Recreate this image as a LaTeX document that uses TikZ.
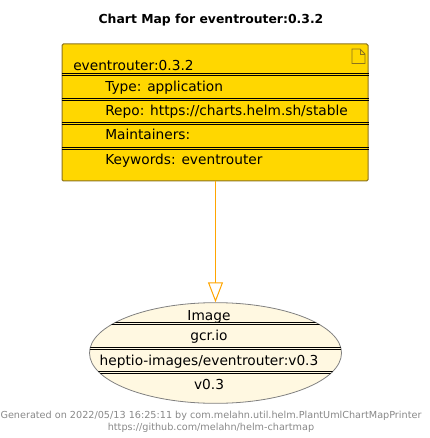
\documentclass[tikz,border=0pt]{standalone}
\usepackage{fontspec}
\setmainfont{DejaVu Sans}
\usetikzlibrary{arrows.meta,shapes.geometric}
\definecolor{chartfill}{RGB}{255,215,0}
\definecolor{chartedge}{RGB}{140,115,30}
\definecolor{imagefill}{RGB}{255,248,225}
\definecolor{linkcolor}{RGB}{255,165,0}
\definecolor{footgray}{RGB}{136,136,136}
\tikzset{
    rowtext/.style={anchor=base west,inner sep=0pt,font=\fontsize{10.3}{12}\selectfont},
    imgtext/.style={anchor=base,inner sep=0pt,font=\fontsize{10.3}{12}\selectfont},
    foottext/.style={anchor=base,inner sep=0pt,text=footgray,font=\fontsize{7.25}{9}\selectfont},
    rowline/.style={draw=black,line width=0.6pt}
}
\begin{document}
\begin{tikzpicture}[x=0.75pt,y=-0.75pt]
    \useasboundingbox (0,0) rectangle (429,438);
    \node (title) at (211,24) [anchor=base,inner sep=0pt,font=\bfseries\fontsize{9.3}{11}\selectfont] {Chart Map for eventrouter:0.3.2};

    \node (chart) at (215,112.5) [rectangle,draw=chartedge,fill=chartfill,line width=0.75pt,rounded corners=1pt,minimum width=229.5pt,minimum height=102.75pt,inner sep=0pt] {};
    \node (image) at (215.5,353) [ellipse,draw=gray,fill=imagefill,line width=0.6pt,minimum width=189pt,minimum height=75.5pt,inner sep=0pt] {};

    \draw[linkcolor,line width=0.75pt,-{Triangle[open,fill=white,length=15pt,width=11.25pt,line width=0.75pt]}] (image |- chart.south) -- (image.north);

    % rows of the chart box
    \foreach \y in {73.5,75.5,98.5,100.5,122.5,124.5,147.5,149.5} {
        \draw[rowline] (chart.west |- 0,\y) -- (chart.east |- 0,\y);
    }
    % rows of the image ellipse
    \begin{scope}
        \clip (215.5,353) ellipse [x radius=126,y radius=50.3];
        \foreach \y in {322.5,324.5,347.5,349.5,371.5,373.5} {
            \draw[rowline] (80,\y) -- (350,\y);
        }
    \end{scope}

    \node (name) at (73,71) [rowtext] {eventrouter:0.3.2};
    \node (type) at (105,92) [rowtext] {Type: application};
    \node (repo) at (105,116) [rowtext] {Repo: https://charts.helm.sh/stable};
    \node (maint) at (105,140) [rowtext] {Maintainers:};
    \node (keys) at (105,165) [rowtext] {Keywords: eventrouter};

    % note icon
    \draw[chartedge,line width=0.6pt,fill=chartfill] (352,49) -- (360,49) -- (365,54) -- (365,63.5) -- (352,63.5) -- cycle;
    \draw[chartedge,line width=0.6pt] (360,49) -- (360,54) -- (365,54);

    \node (kind) at (209,320) [imgtext] {Image};
    \node (registry) at (209,340) [imgtext] {gcr.io};
    \node (repository) at (209,365) [imgtext] {heptio-images/eventrouter:v0.3};
    \node (tag) at (209,389) [imgtext] {v0.3};

    \node (foot1) at (211,418) [foottext] {Generated on 2022/05/13 16:25:11 by com.melahn.util.helm.PlantUmlChartMapPrinter};
    \node (foot2) at (211,430) [foottext] {https://github.com/melahn/helm-chartmap};
\end{tikzpicture}
\end{document}
